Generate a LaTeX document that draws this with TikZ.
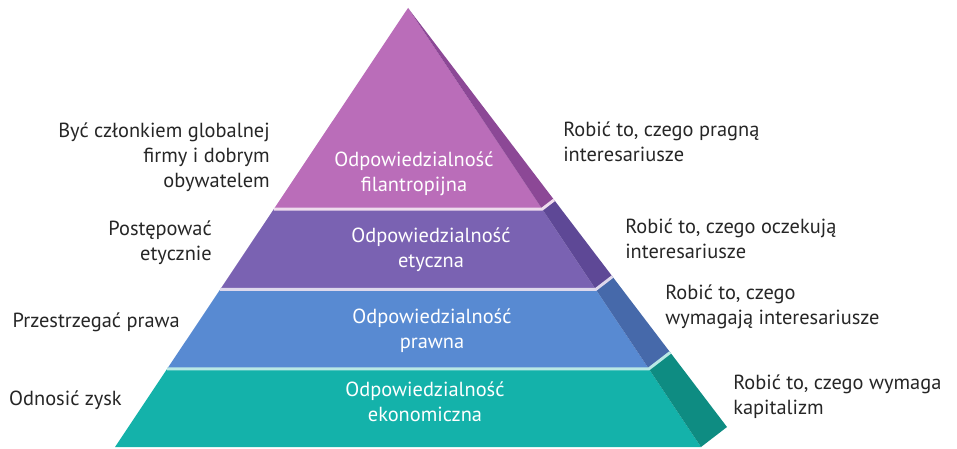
\documentclass[tikz,border=0pt]{standalone}
\usepackage{fontspec}
\setmainfont{PT Sans}
\usetikzlibrary{calc}

\definecolor{filfront}{HTML}{BA6DB9}
\definecolor{filside}{HTML}{8C4896}
\definecolor{etyfront}{HTML}{7A62B2}
\definecolor{etyside}{HTML}{5E4896}
\definecolor{prawfront}{HTML}{588AD2}
\definecolor{prawside}{HTML}{4669AA}
\definecolor{ekofront}{HTML}{14B2AA}
\definecolor{ekoside}{HTML}{0E8C82}

\tikzset{
  lbl/.style={font=\fontsize{15.3}{18.75}\selectfont, text=black!85, inner sep=0pt},
  lblleft/.style={lbl, anchor=east, align=right},
  lblright/.style={lbl, anchor=west, align=left},
  inlbl/.style={lbl, text=white, align=center},
}

% one band of the pyramid: top, bottom (as part of the way down), front and side colour
\newcommand{\pyrlayer}[4]{%
  \fill[#3] ($(A)!#1!(L)$) -- ($(A)!#1!(R)$) -- ($(A)!#2!(R)$) -- ($(A)!#2!(L)$) -- cycle;
  \fill[#4] ($(A)!#1!(R)$) -- ($(A)!#1!(S)$) -- ($(A)!#2!(S)$) -- ($(A)!#2!(R)$) -- cycle;}
% light rim between two bands
\newcommand{\pyrsep}[2]{%
  \draw[#2, line width=2.2pt] ($(A)!#1!(L)$) -- ($(A)!#1!(R)$) -- ($(A)!#1!(S)$);}

\begin{document}
\begin{tikzpicture}[x=0.75pt,y=0.75pt,yscale=-1,xscale=1]
\path[use as bounding box] (0,0) rectangle (957,449);

%corners of the pyramid
\coordinate (A) at (408,8);
\coordinate (L) at (115,447);
\coordinate (R) at (701,447);
\coordinate (S) at (727,427);

%bands
\pyrlayer{0}{0.458}{filfront}{filside}
\pyrlayer{0.458}{0.641}{etyfront}{etyside}
\pyrlayer{0.641}{0.822}{prawfront}{prawside}
\pyrlayer{0.822}{1}{ekofront}{ekoside}

%rims
\pyrsep{0.458}{white!75!filfront}
\pyrsep{0.641}{white!75!etyfront}
\pyrsep{0.822}{white!70!ekofront}

%texts in the bands
\node[inlbl] (filtxt) at (414,174) {Odpowiedzialność\\filantropijna};
\node[inlbl] (etytxt) at (431,250) {Odpowiedzialność\\etyczna};
\node[inlbl] (prawtxt) at (432,331) {Odpowiedzialność\\prawna};
\node[inlbl] (ekotxt) at (425,402) {Odpowiedzialność\\ekonomiczna};

%left side
\node[lblleft] (filleft) at (270,157) {Być członkiem globalnej\\firmy i dobrym\\obywatelem};
\node[lblleft] (etyleft) at (212,243) {Postępować\\etycznie};
\node[lblleft] (prawleft) at (180,322) {Przestrzegać prawa};
\node[lblleft] (ekoleft) at (122,400) {Odnosić zysk};

%right side
\node[lblright] (filright) at (563,142) {Robić to, czego pragną\\interesariusze};
\node[lblright] (etyright) at (625,239) {Robić to, czego oczekują\\interesariusze};
\node[lblright] (prawright) at (665,307) {Robić to, czego\\wymagają interesariusze};
\node[lblright] (ekoright) at (733,397) {Robić to, czego wymaga\\kapitalizm};
\end{tikzpicture}
\end{document}
